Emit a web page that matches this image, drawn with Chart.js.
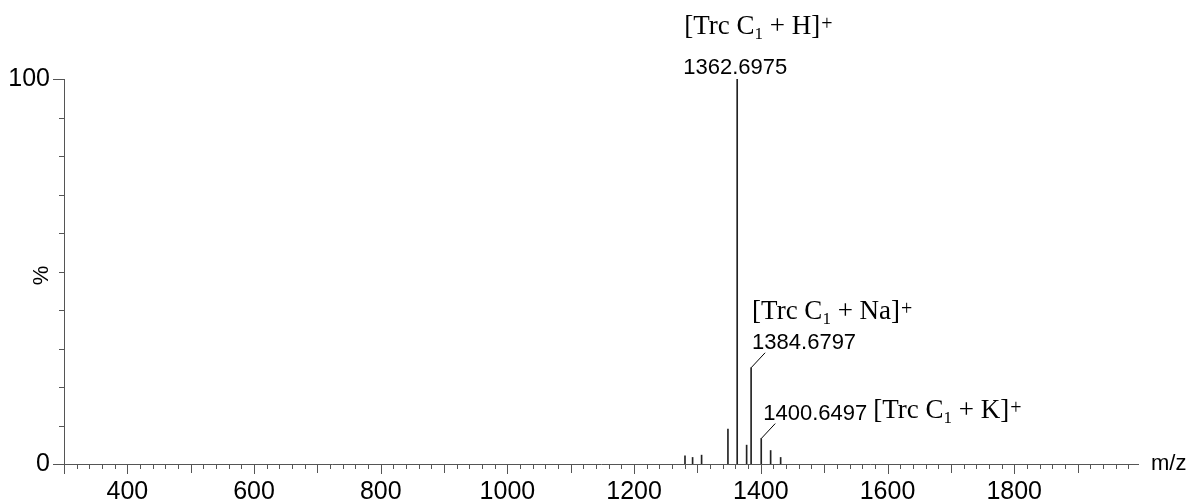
<!DOCTYPE html>
<html>
<head>
<meta charset="utf-8">
<title>Mass spectrum</title>
<script src="https://cdn.jsdelivr.net/npm/chart.js@4/dist/chart.umd.min.js"></script>
<style>
  html, body { margin: 0; padding: 0; background: #fff; }
  canvas { display: block; }
</style>
</head>
<body>
<canvas id="spectrum" width="1195" height="499"></canvas>
<script>
// peak list (m/z, relative intensity %)
const peakMz = [1280.3, 1292.3, 1306.5, 1348.1, 1362.6975, 1377.6, 1384.6797, 1400.6497, 1415.5, 1431.3];
const peakIntensity = [2.1, 1.7, 2.3, 9.1, 100, 4.9, 25.0, 6.6, 3.5, 1.7];

// annotated ions
const ionMz = [1362.6975, 1384.6797, 1400.6497];
const ionAdduct = ['H', 'Na', 'K'];

// axis range and tick labels
const mzMin = 300;
const mzMax = 1997;
const mzLabels = [400, 600, 800, 1000, 1200, 1400, 1600, 1800];
const pctLabels = [0, 100];

const SANS = '"Liberation Sans", Arial, Helvetica, sans-serif';
const SERIF = '"Liberation Serif", "Times New Roman", serif';
const AXIS = '#555';

// draws "[Trc C1 + X]+" with sub/superscript, returns end x
function drawIon(ctx, adduct, x, y) {
  ctx.textAlign = 'left';
  ctx.textBaseline = 'alphabetic';
  ctx.fillStyle = '#000';
  const big = '27px ' + SERIF;
  ctx.font = big;
  ctx.fillText('[Trc C', x, y);
  x += ctx.measureText('[Trc C').width;
  ctx.font = '17px ' + SERIF;
  ctx.fillText('1', x, y + 5);
  x += ctx.measureText('1').width;
  ctx.font = big;
  const mid = ' + ' + adduct + ']';
  ctx.fillText(mid, x, y);
  x += ctx.measureText(mid).width + 1;
  ctx.font = '20px ' + SERIF;
  ctx.fillText('+', x, y - 4);
  return x + ctx.measureText('+').width;
}

const spectrumDecor = {
  id: 'spectrumDecor',
  afterDraw(chart) {
    const { ctx, chartArea, scales } = chart;
    const xs = scales.x, ys = scales.y;
    const left = chartArea.left, bottom = chartArea.bottom;

    ctx.save();
    ctx.strokeStyle = AXIS;
    ctx.lineWidth = 1;

    // axis lines
    ctx.beginPath();
    ctx.moveTo(left + 0.5, ys.getPixelForValue(100));
    ctx.lineTo(left + 0.5, bottom + 10);
    ctx.moveTo(left, bottom + 0.5);
    ctx.lineTo(xs.getPixelForValue(mzMax), bottom + 0.5);
    ctx.stroke();

    // y tick marks
    ctx.beginPath();
    for (let v = 0; v <= 100; v += 10) {
      const py = Math.round(ys.getPixelForValue(v)) + 0.5;
      const len = pctLabels.includes(v) ? 11 : 5;
      ctx.moveTo(left - len, py);
      ctx.lineTo(left, py);
    }
    // x tick marks
    for (let v = mzMin + 20; v <= mzMax; v += 20) {
      const px = Math.round(xs.getPixelForValue(v)) + 0.5;
      const len = v % 200 === 0 ? 10 : (v % 100 === 0 ? 9 : 5);
      ctx.moveTo(px, bottom);
      ctx.lineTo(px, bottom + len);
    }
    ctx.stroke();

    // axis titles
    ctx.fillStyle = '#000';
    ctx.font = '22px ' + SANS;
    ctx.textAlign = 'left';
    ctx.textBaseline = 'middle';
    ctx.fillText('m/z', xs.getPixelForValue(mzMax) + 12, bottom);
    ctx.save();
    ctx.translate(42, (ys.getPixelForValue(50) + ys.getPixelForValue(48)) / 2);
    ctx.rotate(-Math.PI / 2);
    ctx.textAlign = 'center';
    ctx.fillText('%', 0, 0);
    ctx.restore();

    // peak annotations
    ionMz.forEach((mz, i) => {
      const k = peakMz.indexOf(mz);
      const px = xs.getPixelForValue(mz);
      const py = ys.getPixelForValue(peakIntensity[k]);
      const valueText = mz.toFixed(4);
      ctx.font = '22px ' + SANS;
      ctx.textAlign = 'left';
      ctx.textBaseline = 'alphabetic';
      ctx.fillStyle = '#000';
      if (i === 0) {
        ctx.fillText(valueText, px - 54, py - 5);
        drawIon(ctx, ionAdduct[i], px - 53, py - 45);
      } else {
        // leader line from the peak top up to the value
        ctx.strokeStyle = '#000';
        ctx.beginPath();
        ctx.moveTo(px, py);
        ctx.lineTo(px + 14, py - 15);
        ctx.stroke();
        if (i === 1) {
          ctx.fillText(valueText, px + 1, py - 19);
          drawIon(ctx, ionAdduct[i], px + 1, py - 49);
        } else {
          ctx.fillText(valueText, px + 2, py - 19);
          const w = ctx.measureText(valueText).width;
          drawIon(ctx, ionAdduct[i], px + 2 + w + 6, py - 21);
        }
      }
    });
    ctx.restore();
  }
};

new Chart(document.getElementById('spectrum'), {
  type: 'bar',
  data: {
    datasets: [{
      data: peakMz.map((mz, i) => ({ x: mz, y: peakIntensity[i] })),
      backgroundColor: '#222',
      barThickness: 1,
      borderWidth: 0
    }]
  },
  options: {
    responsive: false,
    animation: false,
    layout: { padding: { top: 79, right: 56, left: 0, bottom: 0 } },
    plugins: { legend: { display: false }, tooltip: { enabled: false } },
    scales: {
      x: {
        type: 'linear',
        min: mzMin,
        max: mzMax,
        offset: false,
        grid: { display: false, drawTicks: false },
        border: { display: false },
        ticks: {
          stepSize: 20,
          autoSkip: false,
          maxRotation: 0,
          includeBounds: false,
          padding: 13,
          color: '#000',
          font: { family: SANS, size: 25 },
          callback: v => mzLabels.includes(v) ? String(v) : ''
        },
        afterFit: s => { s.height = 35; }
      },
      y: {
        min: 0,
        max: 100,
        grid: { display: false, drawTicks: false },
        border: { display: false },
        ticks: {
          stepSize: 10,
          padding: 14,
          color: '#000',
          font: { family: SANS, size: 25 },
          callback: v => pctLabels.includes(v) ? String(v) : ''
        },
        afterFit: s => { s.width = 64; }
      }
    }
  },
  plugins: [spectrumDecor]
});
</script>
</body>
</html>
